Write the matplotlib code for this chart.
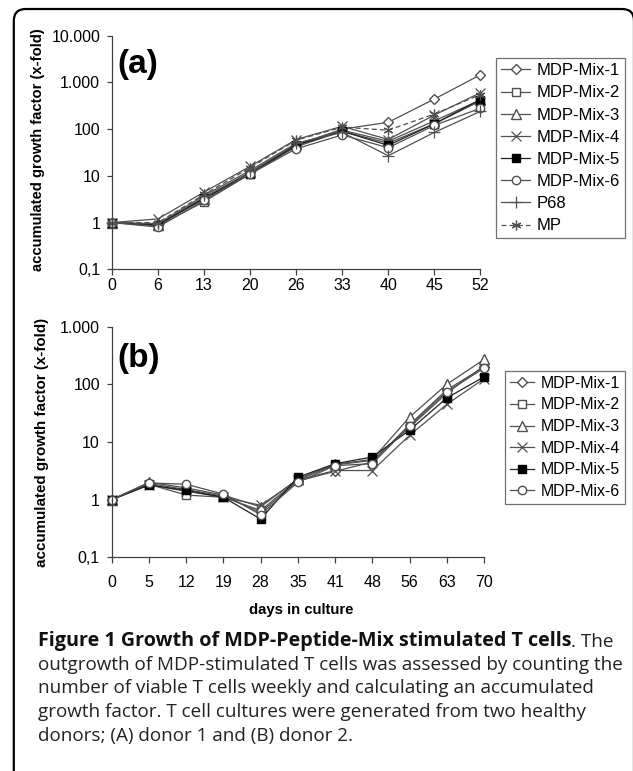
import matplotlib
matplotlib.use('Agg')
import matplotlib.pyplot as plt
from matplotlib.patches import PathPatch
from matplotlib.path import Path
from matplotlib.text import Annotation
from matplotlib.ticker import FixedLocator, NullLocator

plt.rcParams['font.family'] = ['Liberation Sans', 'DejaVu Sans']

# ---------------- data ----------------
days_a = [0, 6, 13, 20, 26, 33, 40, 45, 52]
mix1_a = [1, 0.9, 3.5, 12, 45, 100, 140, 440, 1450]
mix2_a = [1, 0.85, 2.8, 11, 42, 90, 50, 130, 400]
mix3_a = [1, 0.9, 3.2, 12, 48, 95, 55, 150, 420]
mix4_a = [1, 1.2, 4.5, 16, 60, 115, 60, 200, 600]
mix5_a = [1, 0.9, 3.3, 11, 45, 90, 45, 130, 430]
mix6_a = [1, 0.8, 3.0, 11, 38, 75, 40, 120, 280]
p68_a = [1, 0.95, 3.8, 13, 50, 85, 27, 85, 240]
mp_a = [1, 1.0, 4.0, 15, 58, 110, 95, 210, 550]

days_b = [0, 5, 12, 19, 28, 35, 41, 48, 56, 63, 70]
mix1_b = [1, 1.9, 1.5, 1.15, 0.6, 2.1, 3.1, 4.5, 20, 80, 200]
mix2_b = [1, 1.85, 1.2, 1.1, 0.65, 2.2, 4.0, 4.8, 18, 70, 210]
mix3_b = [1, 2.0, 1.6, 1.2, 0.75, 2.3, 4.1, 5.0, 27, 100, 270]
mix4_b = [1, 1.8, 1.4, 1.1, 0.8, 2.2, 3.2, 3.2, 13, 45, 125]
mix5_b = [1, 1.8, 1.45, 1.1, 0.46, 2.45, 4.2, 5.5, 16, 58, 135]
mix6_b = [1, 1.95, 1.85, 1.25, 0.55, 2.0, 3.9, 4.2, 19, 75, 190]

names_a = ['MDP-Mix-1', 'MDP-Mix-2', 'MDP-Mix-3', 'MDP-Mix-4',
           'MDP-Mix-5', 'MDP-Mix-6', 'P68', 'MP']
values_a = [mix1_a, mix2_a, mix3_a, mix4_a, mix5_a, mix6_a, p68_a, mp_a]
names_b = names_a[:6]
values_b = [mix1_b, mix2_b, mix3_b, mix4_b, mix5_b, mix6_b]

ytick_vals_a = [0.1, 1, 10, 100, 1000, 10000]
ytick_labels_a = ['0,1', '1', '10', '100', '1.000', '10.000']
ytick_vals_b = [0.1, 1, 10, 100, 1000]
ytick_labels_b = ['0,1', '1', '10', '100', '1.000']

ylabel = 'accumulated growth factor (x-fold)'
xlabel = 'days in culture'

caption_bold = 'Figure 1 Growth of MDP-Peptide-Mix stimulated T cells'
caption_lines = ['. The',
                 'outgrowth of MDP-stimulated T cells was assessed by counting the',
                 'number of viable T cells weekly and calculating an accumulated',
                 'growth factor. T cell cultures were generated from two healthy',
                 'donors; (A) donor 1 and (B) donor 2.']

# ---------------- styles ----------------
LC = '#505050'
styles = {
    'MDP-Mix-1': dict(marker='D', mfc='white', mec=LC, ms=5.5, color=LC, ls='-'),
    'MDP-Mix-2': dict(marker='s', mfc='white', mec=LC, ms=6, color=LC, ls='-'),
    'MDP-Mix-3': dict(marker='^', mfc='white', mec=LC, ms=6.5, color=LC, ls='-'),
    'MDP-Mix-4': dict(marker='x', mfc='none', mec=LC, ms=7, mew=0.9, color=LC, ls='-'),
    'MDP-Mix-5': dict(marker='s', mfc='black', mec='black', ms=6, color='#222222', ls='-'),
    'MDP-Mix-6': dict(marker='o', mfc='white', mec=LC, ms=6, color=LC, ls='-'),
    'P68': dict(marker='+', mfc='none', mec=LC, ms=8, mew=0.9, color=LC, ls='-'),
    'MP': dict(marker=(6, 2, 0), mfc='none', mec=LC, ms=7, mew=0.9, color=LC, ls=(0, (4, 2.5))),
}

W, H = 633, 771
fig = plt.figure(figsize=(W / 100, H / 100), dpi=100)


def fx(px):
    return px / W


def fy(py):
    return 1 - py / H


# open frame (left + top with rounded corners)
bg = fig.add_axes([0, 0, 1, 1], zorder=-5)
bg.set_xlim(0, W)
bg.set_ylim(H, 0)
bg.axis('off')
L, T, R, rad = 13.8, 9.0, 634.0, 12.0
verts = [(L, 800), (L, T + rad), (L, T), (L + rad, T), (R - rad, T), (R, T), (R, T + rad), (R, 800)]
codes = [Path.MOVETO, Path.LINETO, Path.CURVE3, Path.CURVE3, Path.LINETO,
         Path.CURVE3, Path.CURVE3, Path.LINETO]
bg.add_patch(PathPatch(Path(verts, codes), fc='none', ec='black', lw=1.6))


def make_panel(rect, days, names, values, yt_vals, yt_labels, ylim, xpad, fs):
    ax = fig.add_axes(rect)
    ax.patch.set_alpha(0)
    x = list(range(len(days)))
    for name, vals in zip(names, values):
        st = styles[name]
        ax.plot(x, vals, lw=0.9, label=name, **st)
    ax.set_yscale('log')
    ax.set_ylim(*ylim)
    ax.set_xlim(0, len(days) - 1)
    ax.yaxis.set_major_locator(FixedLocator(yt_vals))
    ax.set_yticklabels(yt_labels)
    ax.yaxis.set_minor_locator(NullLocator())
    ax.set_xticks(x)
    ax.set_xticklabels([str(d) for d in days])
    for s in ['top', 'right']:
        ax.spines[s].set_visible(False)
    for s in ['left', 'bottom']:
        ax.spines[s].set_color('#404040')
        ax.spines[s].set_linewidth(0.9)
    ax.tick_params(axis='x', direction='out', length=4.2, width=0.9,
                   color='#404040', pad=xpad, labelsize=fs)
    ax.tick_params(axis='y', direction='out', length=3.5, width=0.9,
                   color='#404040', pad=5, labelsize=fs)
    for line in ax.get_lines():
        line.set_clip_on(False)
    return ax


axA = make_panel([fx(112), fy(269.3), (480.3 - 112) / W, (269.3 - 35.7) / H],
                 days_a, names_a, values_a, ytick_vals_a, ytick_labels_a,
                 (0.1, 10000), 2.3, 11.5)
axB = make_panel([fx(111.7), fy(557.3), (484 - 111.7) / W, (557.3 - 326.7) / H],
                 days_b, names_b, values_b, ytick_vals_b, ytick_labels_b,
                 (0.1, 1000), 8.6, 11.5)

legkw = dict(loc='upper left', bbox_transform=fig.transFigure, borderaxespad=0,
             frameon=True, fancybox=False, edgecolor='#707070',
             handletextpad=0.4, borderpad=0.3, framealpha=1)
legA = axA.legend(bbox_to_anchor=(fx(496), fy(58.3)), fontsize=12,
                  handlelength=1.75, labelspacing=0.43, **legkw)
legA.get_frame().set_linewidth(0.9)
legB = axB.legend(bbox_to_anchor=(fx(505), fy(371)), fontsize=11.4,
                  handlelength=1.55, labelspacing=0.42, **legkw)
legB.get_frame().set_linewidth(0.9)

# axis labels
fig.text(fx(38), fy(150), ylabel, rotation=90, ha='center', va='center',
         fontweight='bold', fontsize=10.6)
fig.text(fx(41.7), fy(442), ylabel, rotation=90, ha='center', va='center',
         fontweight='bold', fontsize=10.9)
fig.text(fx(300.8), fy(610), xlabel, ha='center', va='center',
         fontweight='bold', fontsize=10.7)

# panel letters
fig.text(fx(117), fy(64.5), '(a)', ha='left', va='center', fontweight='bold', fontsize=24)
fig.text(fx(117), fy(359), '(b)', ha='left', va='center', fontweight='bold', fontsize=24)

# caption
cap_fs = 13.6
cap_family = ['Open Sans', 'DejaVu Sans']
baselines = [646, 669.7, 693.4, 717.4, 741.2]
tb = fig.text(fx(37.5), fy(baselines[0]), caption_bold, ha='left', va='baseline',
              fontweight='bold', fontsize=14.2, family=cap_family, color='#111111')
fig.add_artist(Annotation(caption_lines[0], xy=(1, 0), xycoords=tb,
                          ha='left', va='bottom', fontsize=cap_fs,
                          family=cap_family, color='#222222'))
for line, b in zip(caption_lines[1:], baselines[1:]):
    fig.text(fx(37.5), fy(b), line, ha='left', va='baseline', fontsize=cap_fs,
             family=cap_family, color='#222222')

fig.savefig('out.png', dpi=100)
